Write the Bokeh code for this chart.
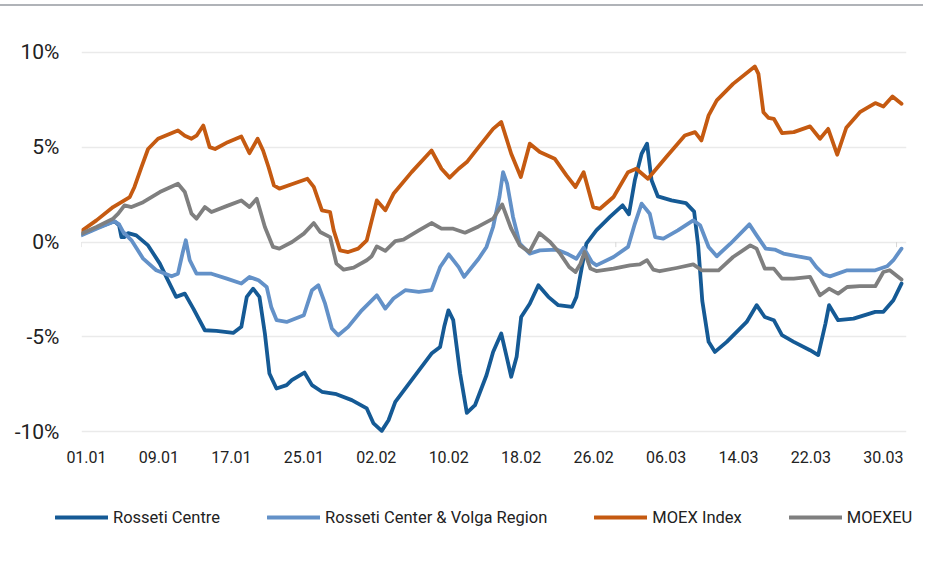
from bokeh.plotting import figure
from bokeh.models import FixedTicker, Legend, LegendItem, Div, Range1d
from bokeh.layouts import column
from bokeh.embed import file_html
from bokeh.resources import INLINE

FONT = "Roboto"
TEXT = "#222222"

# x axis: day number, 0 = 01.01
TICK_DAYS = [0, 8, 16, 24, 32, 40, 48, 56, 64, 72, 80, 88]
TICK_LABELS = ["01.01", "09.01", "17.01", "25.01", "02.02", "10.02",
               "18.02", "26.02", "06.03", "14.03", "22.03", "30.03"]
MONTH_BOUNDS = [-0.55, 30.45, 58.45, 89.45]
Y_TICKS = [-10, -5, 0, 5, 10]
Y_LABELS = ["-10%", "-5%", "0%", "5%", "10%"]

SERIES = ["Rosseti Centre", "Rosseti Center & Volga Region", "MOEX Index", "MOEXEU"]
COLORS = ["#155a95", "#6391c8", "#c55a11", "#7f7f7f"]

rc_days = [-0.55, 1.1, 3.1, 3.6, 3.86, 4.2, 4.6, 5.5, 6.8, 8.1, 9.0, 9.9, 10.86, 11.8, 13.07,
           14.35, 16.2, 17.1, 17.7, 18.4, 19.1, 19.7, 20.2, 20.98, 22.1, 22.67, 24.07, 24.9,
           26.0, 27.6, 29.3, 30.95, 31.7, 32.6, 33.35, 34.1, 35.9, 38.1, 39.05, 39.5, 39.97,
           40.5, 41.26, 42.0, 42.9, 44.17, 44.9, 45.8, 46.4, 46.9, 47.5, 48.0, 48.95, 49.9,
           51.0, 52.1, 53.6, 54.1, 54.7, 55.2, 56.3, 57.8, 59.2, 59.9, 60.55, 61.3, 61.9, 62.4,
           63.1, 64.6, 66.2, 67.1, 67.55, 68.0, 68.7, 69.4, 70.7, 72.9, 74.0, 74.9, 75.9,
           76.8, 78.1, 79.9, 80.8, 81.6, 82.0, 83.0, 84.7, 87.1, 88.0, 89.1, 90.0]
rc_vals = [0.39, 0.74, 1.09, 0.88, 0.26, 0.26, 0.47, 0.35, -0.18, -1.14, -2.02, -2.89, -2.72,
           -3.51, -4.65, -4.68, -4.79, -4.47, -2.89, -2.46, -2.89, -4.82, -6.93, -7.72, -7.54,
           -7.28, -6.88, -7.54, -7.89, -8.02, -8.33, -8.77, -9.56, -9.95, -9.39, -8.42, -7.28,
           -5.88, -5.53, -4.47, -3.6, -4.12, -6.93, -9.0, -8.6, -7.02, -5.79, -4.82, -6.05,
           -7.1, -6.05, -3.95, -3.25, -2.28, -2.89, -3.33, -3.42, -2.89, -1.32, -0.09, 0.61,
           1.32, 1.93, 1.46, 3.25, 4.65, 5.18, 3.25, 2.4, 2.19, 2.05, 1.6, -0.2, -3.1, -5.26,
           -5.79, -5.26, -4.21, -3.33, -3.95, -4.12, -4.91, -5.26, -5.7, -5.96, -4.3, -3.33,
           -4.12, -4.04, -3.68, -3.68, -3.07, -2.19]

rcv_days = [-0.55, 1.1, 3.1, 3.6, 4.05, 4.97, 6.26, 7.7, 9.4, 10.1, 10.6, 10.97, 11.4, 12.15,
            13.8, 15.5, 17.1, 18.0, 19.0, 19.9, 20.4, 21.0, 22.1, 24.0, 24.9, 25.6, 26.35,
            27.1, 27.8, 28.9, 30.4, 32.06, 33.0, 33.9, 35.2, 36.7, 38.1, 39.05, 40.0, 41.1,
            41.7, 43.3, 44.17, 44.9, 45.6, 46.0, 46.45, 47.1, 47.85, 48.95, 50.06, 51.9, 53.2,
            54.1, 54.9, 55.8, 56.3, 58.2, 59.8, 60.55, 61.3, 62.2, 62.8, 63.7, 65.3, 67.0,
            67.76, 68.7, 69.6, 71.1, 73.2, 74.0, 75.0, 76.0, 76.96, 79.9, 80.6, 81.4, 82.1,
            84.0, 87.1, 88.4, 89.1, 90.0]
rcv_vals = [0.35, 0.7, 1.09, 0.93, 0.53, 0.09, -0.88, -1.49, -1.81, -1.67, -0.61, 0.09, -0.96,
            -1.67, -1.67, -1.93, -2.19, -1.84, -2.02, -2.37, -3.42, -4.12, -4.21, -3.86, -2.54,
            -2.28, -3.25, -4.56, -4.91, -4.47, -3.6, -2.81, -3.51, -2.98, -2.54, -2.63, -2.54,
            -1.32, -0.65, -1.32, -1.84, -0.88, -0.26, 0.79, 2.37, 3.68, 3.07, 1.32, -0.09,
            -0.61, -0.44, -0.4, -0.65, -0.88, -0.3, -1.05, -1.23, -0.79, -0.26, 0.96, 2.02,
            1.49, 0.26, 0.18, 0.61, 1.14, 0.88, -0.26, -0.75, -0.09, 0.93, 0.35, -0.35, -0.4,
            -0.61, -0.88, -1.32, -1.7, -1.81, -1.49, -1.49, -1.28, -0.96, -0.35]

moex_days = [-0.55, 1.1, 2.94, 4.78, 5.3, 6.07, 6.8, 7.9, 10.1, 10.86, 11.6, 12.15, 12.9, 13.6,
             14.2, 15.6, 17.1, 18.0, 18.9, 19.5, 20.1, 20.7, 21.3, 22.67, 24.4, 25.1, 26.0,
             26.9, 27.3, 28.0, 28.9, 30.0, 30.95, 31.5, 32.06, 33.0, 33.9, 35.9, 38.1, 39.2,
             40.1, 41.1, 42.0, 43.3, 44.9, 45.8, 46.9, 47.96, 48.95, 50.06, 51.7, 53.0, 54.0,
             54.9, 55.95, 56.7, 58.2, 59.8, 60.7, 62.0, 64.0, 66.07, 67.2, 67.9, 68.7, 69.6,
             71.4, 73.8, 74.2, 74.75, 75.3, 75.9, 76.8, 78.1, 79.9, 81.0, 81.9, 82.9, 83.9,
             85.4, 87.1, 88.0, 89.0, 90.0]
moex_vals = [0.58, 1.14, 1.84, 2.37, 2.9, 3.95, 4.9, 5.44, 5.88, 5.6, 5.44, 5.6, 6.14, 5.0,
             4.9, 5.26, 5.56, 4.68, 5.44, 4.82, 3.95, 2.98, 2.81, 3.04, 3.33, 2.9, 1.67, 1.58,
             0.61, -0.44, -0.53, -0.35, 0.09, 1.14, 2.19, 1.67, 2.54, 3.68, 4.82, 3.86, 3.39,
             3.86, 4.21, 5.0, 5.96, 6.32, 4.65, 3.42, 5.18, 4.74, 4.39, 3.51, 2.9, 3.68, 1.84,
             1.75, 2.37, 3.68, 3.86, 3.33, 4.47, 5.61, 5.79, 5.35, 6.67, 7.46, 8.33, 9.25, 8.86,
             6.84, 6.54, 6.49, 5.74, 5.79, 6.09, 5.44, 5.96, 4.6, 6.02, 6.84, 7.32, 7.14, 7.67,
             7.28]

eu_days = [-0.55, 1.1, 2.94, 3.5, 4.2, 4.97, 6.26, 8.1, 10.1, 10.86, 11.6, 12.15, 13.07, 13.8,
           15.46, 17.1, 18.0, 18.8, 19.7, 20.6, 21.3, 22.7, 24.0, 25.1, 25.8, 26.9, 27.6, 28.4,
           29.5, 30.95, 31.5, 32.06, 33.0, 34.1, 35.0, 36.7, 38.1, 39.2, 40.5, 41.8, 43.3,
           44.9, 45.9, 46.9, 47.85, 48.9, 50.0, 51.2, 52.3, 53.3, 54.0, 54.55, 55.0, 55.65,
           56.3, 58.2, 60.0, 61.1, 61.9, 62.6, 63.3, 65.15, 67.0, 67.94, 69.8, 71.4, 73.3,
           74.0, 74.9, 75.9, 76.8, 78.1, 79.9, 81.0, 82.0, 83.0, 84.0, 85.4, 87.1, 88.0, 88.7,
           90.0]
eu_vals = [0.44, 0.79, 1.23, 1.49, 1.93, 1.84, 2.1, 2.63, 3.07, 2.63, 1.49, 1.23, 1.84, 1.58,
           1.89, 2.19, 1.84, 2.28, 0.79, -0.26, -0.35, 0.0, 0.44, 1.0, 0.53, 0.26, -1.14,
           -1.46, -1.35, -0.96, -0.75, -0.23, -0.47, 0.05, 0.12, 0.61, 1.0, 0.7, 0.7, 0.49,
           0.82, 1.23, 1.98, 0.7, -0.18, -0.53, 0.47, 0.0, -0.61, -1.32, -1.58, -1.14, -0.53,
           -1.4, -1.53, -1.4, -1.23, -1.18, -0.96, -1.46, -1.54, -1.37, -1.18, -1.49, -1.49,
           -0.79, -0.18, -0.35, -1.4, -1.4, -1.93, -1.93, -1.84, -2.81, -2.46, -2.72, -2.37,
           -2.33, -2.33, -1.58, -1.49, -1.98]

data = [(rc_days, rc_vals), (rcv_days, rcv_vals), (moex_days, moex_vals), (eu_days, eu_vals)]

p = figure(frame_width=825, frame_height=391,
           x_range=Range1d(-0.55, 90.55), y_range=Range1d(-10.3, 10.3),
           output_backend="svg", toolbar_location=None,
           min_border_left=81, min_border_right=17, min_border_top=40, min_border_bottom=45)
p.outline_line_color = None

p.xgrid.visible = False
p.ygrid.ticker = FixedTicker(ticks=Y_TICKS)
p.ygrid.grid_line_color = "#eaeaea"
p.ygrid.grid_line_width = 1.3

p.yaxis.ticker = FixedTicker(ticks=Y_TICKS)
p.yaxis.major_label_overrides = {t: l for t, l in zip(Y_TICKS, Y_LABELS)}
p.xaxis.ticker = FixedTicker(ticks=TICK_DAYS)
p.xaxis.major_label_overrides = {t: l for t, l in zip(TICK_DAYS, TICK_LABELS)}
for ax in (p.xaxis, p.yaxis):
    ax.axis_line_color = None
    ax.major_tick_line_color = None
    ax.minor_tick_line_color = None
    ax.major_label_text_font = FONT
    ax.major_label_text_color = TEXT
p.yaxis.major_label_text_font_size = "21px"
p.yaxis.major_label_standoff = 16
p.xaxis.major_label_text_font_size = "16px"
p.xaxis.major_label_standoff = 7

# small month ticks on the zero line
p.segment(x0=MONTH_BOUNDS, x1=MONTH_BOUNDS, y0=[0] * len(MONTH_BOUNDS),
          y1=[-0.27] * len(MONTH_BOUNDS), line_color="#d6d6d6", line_width=1)

for color, (xs, ys) in zip(COLORS, data):
    p.line(xs, ys, line_color=color, line_width=3.8, line_join="round", line_cap="round")

# legend strip below the chart (its own lines lie outside its visible range)
lf = figure(frame_width=923, frame_height=62, x_range=Range1d(-0.55, 90.55),
            y_range=Range1d(100, 101), x_axis_type=None, y_axis_type=None,
            output_backend="svg", toolbar_location=None, min_border=0)
lf.outline_line_color = None
lf.grid.visible = False
items = []
for name, color, (xs, ys) in zip(SERIES, COLORS, data):
    r = lf.line(xs, ys, line_color=color, line_width=3.8, line_cap="round")
    items.append(LegendItem(label=name, renderers=[r]))
legend = Legend(items=items, orientation="horizontal", location=(55, 17),
                glyph_width=53, glyph_height=20, label_height=20, label_standoff=5,
                spacing=47, padding=0, margin=0, border_line_color=None,
                background_fill_alpha=0, label_text_font=FONT,
                label_text_font_size="16.5px", label_text_color=TEXT)
lf.add_layout(legend)

top_rule = Div(text="", width=923, height=2, margin=(4, 0, 0, 0),
               styles={"background-color": "#b0b3b8"})
layout = column(top_rule, p, lf, spacing=0)

open("out.html", "w").write(file_html(layout, INLINE))
